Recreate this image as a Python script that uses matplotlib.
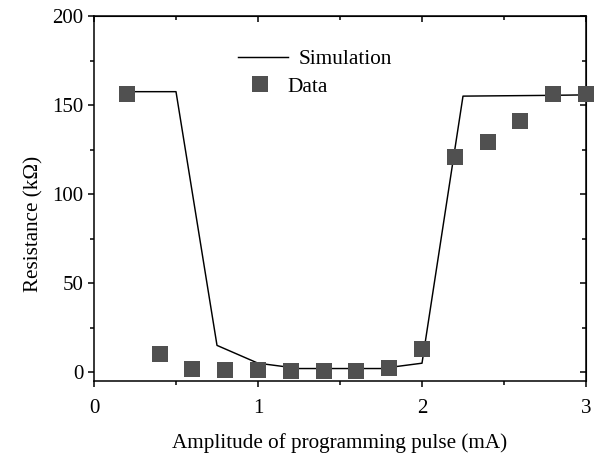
import matplotlib
matplotlib.use("Agg")
import matplotlib.pyplot as plt
from matplotlib.ticker import MultipleLocator

plt.rcParams['font.family'] = ['Liberation Serif', 'DejaVu Serif']
plt.rcParams['mathtext.fontset'] = 'stix'

# Data
data_x = [0.2, 0.4, 0.6, 0.8, 1.0, 1.2, 1.4, 1.6, 1.8, 2.0, 2.2, 2.4, 2.6, 2.8, 3.0]
data_y = [156, 10, 2, 1, 1, 0.5, 0.5, 0.5, 2.5, 13, 121, 129, 141, 156, 156]

sim_x = [0.2, 0.5, 0.75, 1.0, 1.25, 1.5, 1.75, 2.0, 2.25, 2.5, 2.75, 3.0]
sim_y = [157.5, 157.5, 15, 5, 2, 2, 2, 5, 155, 155.2, 155.4, 155.7]

x_ticks = [0, 1, 2, 3]
y_ticks = [0, 50, 100, 150, 200]

fig = plt.figure(figsize=(5.95, 4.54), dpi=100)
ax = fig.add_axes([94/595, 73/454, 492/595, 365/454])

sim_line, = ax.plot(sim_x, sim_y, color='black', lw=1.05, zorder=2)
data_pts, = ax.plot(data_x, data_y, 's', color='#505050', markersize=11.5,
                    markeredgewidth=0, zorder=3, clip_on=False)

ax.set_xlim(0, 3)
ax.set_ylim(-5, 200)
ax.set_xticks(x_ticks)
ax.set_yticks(y_ticks)
ax.xaxis.set_minor_locator(MultipleLocator(0.5))
ax.yaxis.set_minor_locator(MultipleLocator(25))

for s in ax.spines.values():
    s.set_linewidth(1.1)

ax.tick_params(axis='both', which='major', labelsize=15, width=1.1, length=4.5,
               direction='out')
ax.tick_params(axis='x', which='major', pad=8.5)
ax.tick_params(axis='y', which='major', pad=3)
ax.tick_params(axis='both', which='minor', width=1.1, length=3, direction='out')

# mirrored ticks on top/right
axt = ax.secondary_xaxis('top')
axt.set_xticks(x_ticks)
axt.xaxis.set_minor_locator(MultipleLocator(0.5))
axt.tick_params(which='major', direction='in', length=4.5, width=1.1)
axt.tick_params(which='minor', direction='in', length=3, width=1.1)
axt.set_xticklabels([])
axr = ax.secondary_yaxis('right')
axr.set_yticks(y_ticks)
axr.yaxis.set_minor_locator(MultipleLocator(25))
axr.tick_params(which='major', direction='in', length=4.5, width=1.1)
axr.tick_params(which='minor', direction='in', length=3, width=1.1)
axr.set_yticklabels([])

ax.set_xlabel('Amplitude of programming pulse (mA)', fontsize=15.2, labelpad=10.5)
ax.set_ylabel('Resistance (k\u03a9)', fontsize=15.2)
ax.yaxis.set_label_coords(-0.102, 0.43)

leg1 = ax.legend([sim_line], ['Simulation'], loc='center left',
                 bbox_to_anchor=(0.2927, 0.882), frameon=False, fontsize=15.3,
                 handlelength=2.35, handletextpad=0.52, borderpad=0,
                 borderaxespad=0)
ax.add_artist(leg1)
ax.legend([data_pts], ['Data'], loc='center left',
          bbox_to_anchor=(0.3177, 0.8055), frameon=False, fontsize=15.3,
          handlelength=0.92, handletextpad=0.82, borderpad=0, borderaxespad=0)

fig.savefig('out.png', dpi=100)
